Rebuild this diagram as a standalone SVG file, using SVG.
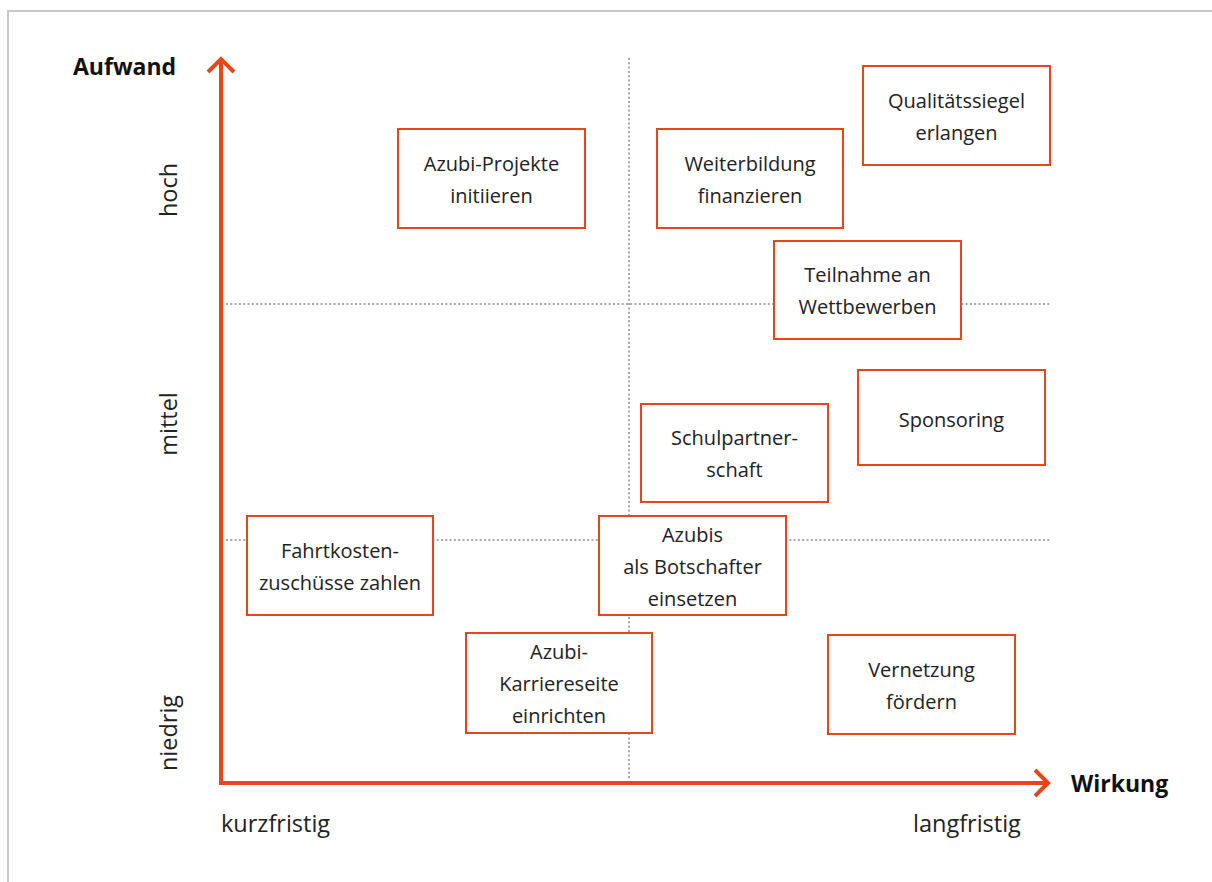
<svg xmlns="http://www.w3.org/2000/svg" width="1212" height="882" viewBox="0 0 1212 882">
<defs>
<style>
.frame{fill:none;stroke:#c8c8c8;stroke-width:2}
.axis{fill:none;stroke:#e84618;stroke-width:4;stroke-linejoin:miter}
.grid{fill:none;stroke:#8a8a8a;stroke-width:1.5;stroke-dasharray:2 2.3}
.box{fill:#ffffff;stroke:#e84618;stroke-width:2}
.t{font-family:"Open Sans","Noto Sans",sans-serif;font-size:20px;fill:#222222;text-anchor:middle}
.lbl{font-family:"Open Sans","Noto Sans",sans-serif;font-size:23.5px;fill:#222222}
.ttl{font-family:"Open Sans","Noto Sans",sans-serif;font-size:23px;font-weight:700;fill:#111111}
</style>
<marker id="chev" markerUnits="userSpaceOnUse" viewBox="-20 -20 40 40" markerWidth="40" markerHeight="40" refX="0" refY="0" orient="auto-start-reverse">
<path d="M-13,-13 L0,0 L-13,13" fill="none" stroke="#e84618" stroke-width="4"/>
</marker>
</defs>
<rect width="1212" height="882" fill="#ffffff"/>
<path class="frame" d="M8,882 L8,11 L1212,11"/>
<g id="grid">
<line class="grid" x1="629" y1="58" x2="629" y2="780"/>
<line class="grid" x1="226" y1="304" x2="1050" y2="304"/>
<line class="grid" x1="226" y1="540" x2="1050" y2="540"/>
</g>
<g id="connectors">
<path class="axis" d="M221,59 L221,783 L1048,783" marker-start="url(#chev)" marker-end="url(#chev)"/>
</g>
<g id="labels">
<text class="ttl" x="73" y="75">Aufwand</text>
<text class="ttl" x="1071" y="792">Wirkung</text>
<text class="lbl" x="221" y="832">kurzfristig</text>
<text class="lbl" x="913" y="832">langfristig</text>
<text class="lbl" text-anchor="middle" transform="translate(177,190) rotate(-90)">hoch</text>
<text class="lbl" text-anchor="middle" transform="translate(177,424) rotate(-90)">mittel</text>
<text class="lbl" text-anchor="middle" transform="translate(177,733) rotate(-90)">niedrig</text>
</g>
<g id="n-projekte">
<rect class="box" x="398" y="129" width="187" height="99"/>
<text class="t" x="491.5" y="171">Azubi-Projekte</text>
<text class="t" x="491.5" y="203">initiieren</text>
</g>
<g id="n-weiterbildung">
<rect class="box" x="657" y="129" width="186" height="99"/>
<text class="t" x="750" y="171">Weiterbildung</text>
<text class="t" x="750" y="203">finanzieren</text>
</g>
<g id="n-siegel">
<rect class="box" x="863" y="66" width="187" height="99"/>
<text class="t" x="956.5" y="108">Qualitätssiegel</text>
<text class="t" x="956.5" y="140">erlangen</text>
</g>
<g id="n-wettbewerbe">
<rect class="box" x="774" y="241" width="187" height="98"/>
<text class="t" x="867.5" y="282">Teilnahme an</text>
<text class="t" x="867.5" y="314">Wettbewerben</text>
</g>
<g id="n-sponsoring">
<rect class="box" x="858" y="370" width="187" height="95"/>
<text class="t" x="951.5" y="427">Sponsoring</text>
</g>
<g id="n-schulpartner">
<rect class="box" x="641" y="404" width="187" height="98"/>
<text class="t" x="734.5" y="445">Schulpartner-</text>
<text class="t" x="734.5" y="477">schaft</text>
</g>
<g id="n-fahrtkosten">
<rect class="box" x="247" y="516" width="186" height="99"/>
<text class="t" x="340" y="558">Fahrtkosten-</text>
<text class="t" x="340" y="590">zuschüsse zahlen</text>
</g>
<g id="n-botschafter">
<rect class="box" x="599" y="516" width="187" height="99"/>
<text class="t" x="692.5" y="542">Azubis</text>
<text class="t" x="692.5" y="574">als Botschafter</text>
<text class="t" x="692.5" y="606">einsetzen</text>
</g>
<g id="n-karriereseite">
<rect class="box" x="466" y="633" width="186" height="100"/>
<text class="t" x="559" y="659">Azubi-</text>
<text class="t" x="559" y="691">Karriereseite</text>
<text class="t" x="559" y="723">einrichten</text>
</g>
<g id="n-vernetzung">
<rect class="box" x="828" y="635" width="187" height="99"/>
<text class="t" x="921.5" y="677">Vernetzung</text>
<text class="t" x="921.5" y="709">fördern</text>
</g>
</svg>
